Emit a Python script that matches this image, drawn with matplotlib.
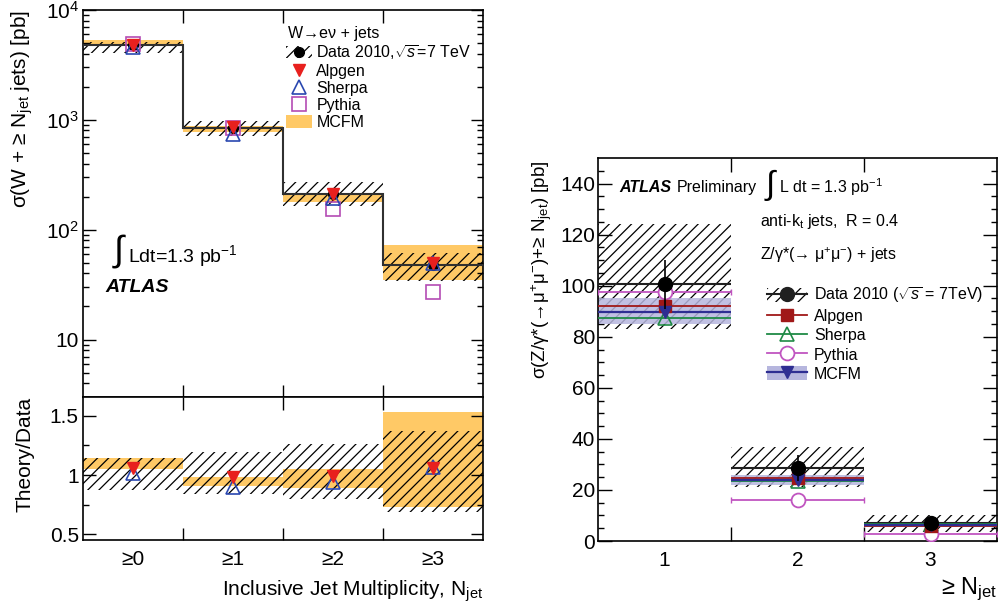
import matplotlib
matplotlib.use("Agg")
import matplotlib.pyplot as plt
from matplotlib.patches import Patch
from matplotlib.lines import Line2D
import numpy as np

plt.rcParams['font.family'] = ['Liberation Sans', 'DejaVu Sans']
plt.rcParams['mathtext.fontset'] = 'custom'
plt.rcParams['mathtext.rm'] = 'Liberation Sans'
plt.rcParams['mathtext.it'] = 'Liberation Sans:italic'
plt.rcParams['mathtext.bf'] = 'Liberation Sans:bold'
plt.rcParams['hatch.linewidth'] = 0.9

# ---------------- W -> e nu + jets (left) ----------------
w_labels = ["≥0", "≥1", "≥2", "≥3"]
w_data = [4750, 850, 210, 47.5]
w_data_lo = [4030, 720, 163, 34]
w_data_hi = [5160, 980, 270, 62]
w_mcfm_lo = [4750, 780, 180, 34.5]
w_mcfm_hi = [5340, 880, 215, 72]
w_alpgen = [4850, 860, 210, 50]
w_sherpa = [4650, 740, 195, 50]
w_pythia = [4900, 850, 155, 27]

# ratio panel
r_data_lo = [0.87, 0.84, 0.80, 0.69]
r_data_hi = [1.147, 1.195, 1.265, 1.37]
r_mcfm_lo = [1.053, 0.907, 0.89, 0.73]
r_mcfm_hi = [1.147, 0.983, 1.053, 1.53]
r_alpgen = [1.06, 0.98, 0.99, 1.06]
r_sherpa = [1.02, 0.90, 0.94, 1.07]

# ---------------- Z -> mu mu + jets (right) ----------------
z_nj = [1, 2, 3]
z_data = [100.5, 28.5, 7.0]
z_data_err = [9.5, 5.0, 1.5]
z_syst_lo = [83, 21, 3.5]
z_syst_hi = [124, 37, 10.0]
z_alpgen = [92.2, 24.5, 6.0]
z_sherpa = [87.4, 23.5, 6.5]
z_pythia = [97.5, 16.2, 2.8]
z_mcfm = [89.5, 24.0, 6.2]
z_mcfm_lo = [85, 22, 5.5]
z_mcfm_hi = [95, 26, 7.0]

orange = '#ffc966'
c_alp_w, c_she_w, c_pyt_w = '#e8201e', '#2a48b0', '#b44cb4'
c_alp, c_she, c_pyt, c_mcfm = '#a01818', '#1f8a45', '#c055c0', '#2e2e92'
band_z = '#b6b6de'
hatch = '///'

fig = plt.figure(figsize=(10, 6.12), dpi=100)
ax1 = fig.add_axes([0.083, 0.3513, 0.400, 0.6324])
ax2 = fig.add_axes([0.083, 0.1176, 0.400, 0.2337])
ax3 = fig.add_axes([0.598, 0.1160, 0.399, 0.6258])

xw = np.arange(len(w_labels))
edges_w = np.arange(len(w_labels) + 1) - 0.5


def root_style(ax):
    for s in ax.spines.values():
        s.set_linewidth(1.2)
    ax.tick_params(which='both', direction='in', top=True, right=True, width=1.0)
    ax.tick_params(which='major', length=9)
    ax.tick_params(which='minor', length=4.5)


# top panel
ax1.set_yscale('log')
ax1.bar(xw, np.array(w_mcfm_hi) - np.array(w_mcfm_lo), bottom=w_mcfm_lo, width=1.0,
        color=orange, linewidth=0, zorder=1)
ax1.bar(xw, np.array(w_data_hi) - np.array(w_data_lo), bottom=w_data_lo, width=1.0,
        facecolor='none', edgecolor='black', hatch=hatch, linewidth=0, zorder=2)
ax1.stairs(w_data, edges_w, baseline=None, color='#303030', linewidth=1.5, zorder=3)
ax1.plot(xw, w_data, 'o', color='black', ms=7, zorder=4)
ax1.plot(xw, w_pythia, 's', mfc='none', mec=c_pyt_w, mew=1.2, ms=10, zorder=5)
ax1.plot(xw, w_sherpa, '^', mfc='none', mec=c_she_w, mew=1.2, ms=10, zorder=6)
ax1.plot(xw, w_alpgen, 'v', color=c_alp_w, ms=8, zorder=7)
ax1.set_xlim(-0.5, 3.5)
ax1.set_ylim(3, 1e4)
ax1.set_yticks([10, 100, 1000, 10000], ['10', '$10^{2}$', '$10^{3}$', '$10^{4}$'])
ax1.set_xticks(edges_w[1:-1], [])
root_style(ax1)
ax1.tick_params(axis='y', labelsize=15, pad=3)
ax1.set_ylabel("σ(W + ≥ N$_{\\rm jet}$ jets) [pb]", fontsize=15, loc='top')
ax1.yaxis.set_label_coords(-0.12, 1.0)

ax1.text(0.5125, 0.938, "W→eν + jets", transform=ax1.transAxes, fontsize=11.5,
         va='center', ha='left')
h_data = (Patch(facecolor='none', edgecolor='black', hatch=hatch, linewidth=0),
          Line2D([], [], color='black', marker='o', ms=7, linestyle='none'))
h_alp = Line2D([], [], color=c_alp_w, marker='v', ms=8, linestyle='none')
h_she = Line2D([], [], mec=c_she_w, mfc='none', mew=1.2, marker='^', ms=10, linestyle='none')
h_pyt = Line2D([], [], mec=c_pyt_w, mfc='none', mew=1.2, marker='s', ms=10, linestyle='none')
h_mcfm = Patch(facecolor=orange, linewidth=0)
ax1.legend([h_data, h_alp, h_she, h_pyt, h_mcfm],
           ["Data 2010,$\\sqrt{s}$=7 TeV", "Alpgen", "Sherpa", "Pythia", "MCFM"],
           loc='upper left', bbox_to_anchor=(0.5075, 0.915), frameon=False,
           fontsize=11.5, borderpad=0, borderaxespad=0, handlelength=1.65,
           handletextpad=0.25, labelspacing=0.13, handleheight=0.8)

ax1.text(0.09, 0.377, "∫", transform=ax1.transAxes, fontsize=26, ha='center', va='center')
ax1.text(0.1125, 0.364, "Ldt=1.3 pb$^{-1}$", transform=ax1.transAxes, fontsize=14,
         ha='left', va='center')
ax1.text(0.055, 0.284, "ATLAS", transform=ax1.transAxes, fontsize=14, fontweight='bold',
         fontstyle='italic', ha='left', va='center')

# ratio panel
ax2.bar(xw, np.array(r_mcfm_hi) - np.array(r_mcfm_lo), bottom=r_mcfm_lo, width=1.0,
        color=orange, linewidth=0, zorder=1)
ax2.bar(xw, np.array(r_data_hi) - np.array(r_data_lo), bottom=r_data_lo, width=1.0,
        facecolor='none', edgecolor='black', hatch=hatch, linewidth=0, zorder=2)
ax2.plot(xw, r_sherpa, '^', mfc='none', mec=c_she_w, mew=1.2, ms=10, zorder=5)
ax2.plot(xw, r_alpgen, 'v', color=c_alp_w, ms=8, zorder=6)
ax2.set_xlim(-0.5, 3.5)
ax2.set_ylim(0.45, 1.66)
ax2.set_yticks([0.5, 1.0, 1.5], ['0.5', '1', '1.5'])
ax2.set_yticks([0.75, 1.25], minor=True)
ax2.set_xticks(edges_w[1:-1], [])
ax2.set_xticks(xw, w_labels, minor=True)
root_style(ax2)
ax2.tick_params(axis='x', which='minor', length=0, labelsize=15, pad=7)
ax2.tick_params(axis='y', labelsize=15, pad=3)
ax2.set_ylabel("Theory/Data", fontsize=15, loc='top')
ax2.yaxis.set_label_coords(-0.12, 1.0)
ax2.set_xlabel("Inclusive Jet Multiplicity, N$_{\\rm jet}$", fontsize=15, loc='right')
ax2.xaxis.set_label_coords(1.0, -0.27)

# right panel
xz = np.array(z_nj)
ax3.bar(xz, np.array(z_syst_hi) - np.array(z_syst_lo), bottom=z_syst_lo, width=1.0,
        facecolor='none', edgecolor='black', hatch=hatch, linewidth=0, zorder=1)
ax3.bar(xz, np.array(z_mcfm_hi) - np.array(z_mcfm_lo), bottom=z_mcfm_lo, width=1.0,
        color=band_z, alpha=0.85, linewidth=0, zorder=2)
ax3.hlines(z_data, xz - 0.5, xz + 0.5, color='#202020', lw=1.5, zorder=3)
ax3.errorbar(xz, z_pythia, xerr=0.5, fmt='none', ecolor=c_pyt, elinewidth=1.3, capsize=2, zorder=3)
ax3.hlines(z_sherpa, xz - 0.5, xz + 0.5, color=c_she, lw=1.3, zorder=3)
ax3.hlines(z_alpgen, xz - 0.5, xz + 0.5, color=c_alp, lw=1.3, zorder=3)
ax3.hlines(z_mcfm, xz - 0.5, xz + 0.5, color=c_mcfm, lw=1.6, zorder=3)
ax3.plot(xz, z_pythia, 'o', mfc='white', mec=c_pyt, mew=1.3, ms=10, zorder=4)
ax3.plot(xz, z_sherpa, '^', mfc='none', mec=c_she, mew=1.2, ms=10, zorder=4)
ax3.plot(xz, z_alpgen, 's', color=c_alp, ms=8, zorder=5)
ax3.plot(xz, z_mcfm, 'v', color=c_mcfm, ms=8, zorder=6)
ax3.errorbar(xz, z_data, yerr=z_data_err, fmt='o', color='black', ms=10, elinewidth=1.2,
             capsize=0, zorder=7)
ax3.set_xlim(0.5, 3.5)
ax3.set_ylim(0, 150)
ax3.set_yticks(np.arange(0, 141, 20))
ax3.set_yticks(np.arange(0, 150, 5), minor=True)
ax3.set_xticks([1.5, 2.5], [])
ax3.set_xticks(xz, [str(n) for n in z_nj], minor=True)
root_style(ax3)
ax3.tick_params(which='major', length=10)
ax3.tick_params(axis='x', which='minor', length=0, labelsize=15, pad=7)
ax3.tick_params(axis='y', labelsize=15, pad=2)
ax3.set_ylabel("σ(Z/γ*(→μ$^{+}$μ$^{-}$)+≥ N$_{\\rm jet}$) [pb]", fontsize=13.5, loc='top')
ax3.yaxis.set_label_coords(-0.11, 0.995)
ax3.set_xlabel("≥ N$_{\\rm jet}$", fontsize=17, loc='right')
ax3.xaxis.set_label_coords(1.0, -0.09)

ax3.text(0.0526, 0.924, "ATLAS", transform=ax3.transAxes, fontsize=11.5, fontweight='bold',
         fontstyle='italic', ha='left', va='center')
ax3.text(0.198, 0.924, "Preliminary", transform=ax3.transAxes, fontsize=11.5,
         ha='left', va='center')
ax3.text(0.431, 0.929, "∫", transform=ax3.transAxes, fontsize=24, ha='center', va='center')
ax3.text(0.4536, 0.924, "L dt = 1.3 pb$^{-1}$", transform=ax3.transAxes, fontsize=11.5,
         ha='left', va='center')
ax3.text(0.406, 0.8355, "anti-k$_{\\rm t}$ jets,  R = 0.4", transform=ax3.transAxes,
         fontsize=11.5, ha='left', va='center')
ax3.text(0.406, 0.7467, "Z/γ*(→ μ$^{+}$μ$^{-}$) + jets", transform=ax3.transAxes,
         fontsize=11.5, ha='left', va='center')

hz_data = (Patch(facecolor='none', edgecolor='black', hatch=hatch, linewidth=0),
           Line2D([], [], color='#202020', marker='o', ms=10, lw=1.5))
hz_alp = Line2D([], [], color=c_alp, marker='s', ms=8, lw=1.3)
hz_she = Line2D([], [], color=c_she, mfc='none', mew=1.2, marker='^', ms=10, lw=1.3)
hz_pyt = Line2D([], [], color=c_pyt, mfc='white', mew=1.3, marker='o', ms=10, lw=1.3)
hz_mcfm = (Patch(facecolor=band_z, linewidth=0),
           Line2D([], [], color=c_mcfm, marker='v', ms=8, lw=1.6))
ax3.legend([hz_data, hz_alp, hz_she, hz_pyt, hz_mcfm],
           ["Data 2010 ($\\sqrt{s}$ = 7TeV)", "Alpgen", "Sherpa", "Pythia", "MCFM"],
           loc='upper left', bbox_to_anchor=(0.4236, 0.668), frameon=False,
           fontsize=11.5, borderpad=0, borderaxespad=0, handlelength=2.5,
           handletextpad=0.45, labelspacing=0.22, handleheight=1.0)

fig.savefig("out.png", dpi=100)
